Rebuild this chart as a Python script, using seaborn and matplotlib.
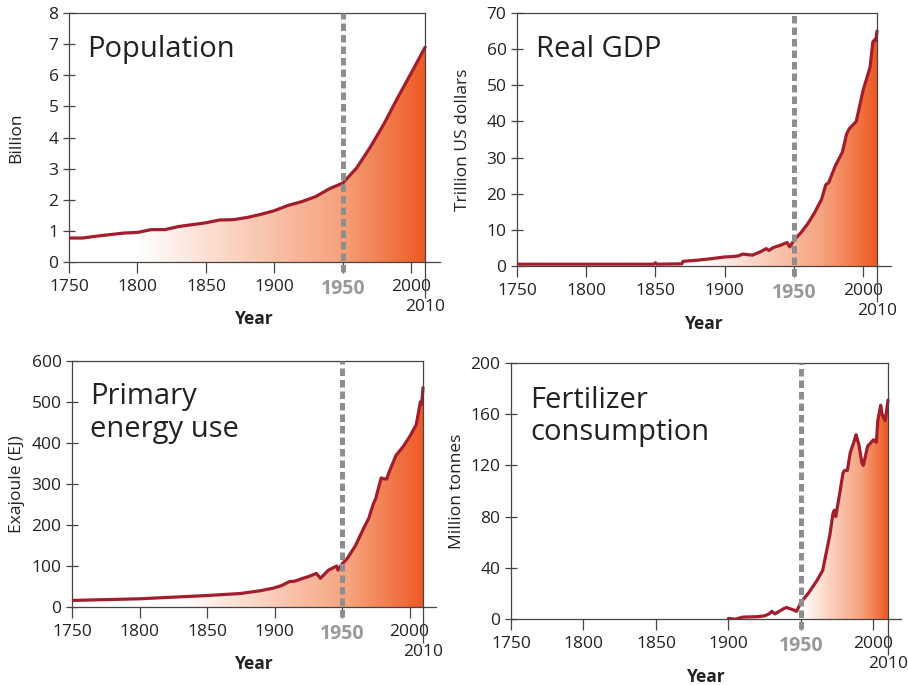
import numpy as np
import pandas as pd
import matplotlib
matplotlib.use("Agg")
import matplotlib.pyplot as plt
from matplotlib.colors import LinearSegmentedColormap
import seaborn as sns

# ---------------- data ----------------
pop_years = list(range(1750, 2011, 10))
pop_values = [0.77, 0.77, 0.83, 0.88, 0.93, 0.95, 1.04, 1.04, 1.14, 1.20,
              1.26, 1.35, 1.36, 1.43, 1.53, 1.65, 1.82, 1.94, 2.10, 2.35,
              2.54, 3.02, 3.69, 4.44, 5.28, 6.08, 6.90]

gdp_years = [1750, 1800, 1849, 1850, 1851, 1869, 1870, 1880, 1890, 1900,
             1905, 1910, 1913, 1920, 1925, 1930, 1932, 1935, 1940, 1945,
             1947, 1950, 1955, 1960, 1965, 1970, 1973, 1975, 1980, 1985,
             1988, 1990, 1995, 2000, 2005, 2007, 2008, 2009, 2010]
gdp_values = [0.5, 0.5, 0.5, 0.9, 0.5, 0.6, 1.3, 1.6, 2.0, 2.5,
              2.6, 2.8, 3.3, 3.0, 3.8, 4.8, 4.3, 5.1, 5.7, 6.5,
              5.3, 7.1, 9.2, 11.7, 14.8, 18.5, 22.5, 23.0, 27.8, 31.5,
              36.5, 38.0, 40.0, 48.7, 55.0, 62.0, 62.5, 62.3, 65.0]

energy_years = [1750, 1800, 1850, 1875, 1890, 1899, 1905, 1911, 1915, 1921,
                1925, 1931, 1934, 1940, 1946, 1947, 1950, 1954, 1960, 1965,
                1970, 1973, 1975, 1979, 1980, 1983, 1985, 1990, 1995, 2000,
                2005, 2008, 2009, 2010]
energy_values = [16, 20, 28, 33, 40, 46, 52, 62, 63, 70,
                 74, 82, 70, 90, 100, 90, 105, 119, 150, 185,
                 218, 250, 265, 315, 313, 312, 330, 370, 390, 415,
                 445, 500, 495, 535]

fert_years = [1900, 1903, 1905, 1910, 1920, 1925, 1928, 1930, 1932, 1935,
              1938, 1940, 1945, 1947, 1950, 1955, 1961, 1965, 1968, 1970,
              1972, 1973, 1974, 1977, 1979, 1980, 1982, 1984, 1987, 1988,
              1990, 1992, 1993, 1996, 2000, 2002, 2003, 2005, 2006, 2008,
              2009, 2010]
fert_values = [0.5, 0.0, 0.0, 1.5, 1.8, 2.5, 4.0, 6.0, 4.0, 6.0,
               8.0, 9.0, 7.0, 6.0, 13.0, 20.0, 30.0, 38.0, 55.0, 66.0,
               82.0, 85.0, 80.0, 100.0, 114.0, 116.0, 116.0, 130.0, 140.0, 144.0,
               136.0, 122.0, 120.0, 135.0, 140.0, 138.0, 155.0, 167.0, 160.0, 155.0,
               162.0, 171.0]

titles = ["Population", "Real GDP", "Primary\nenergy use", "Fertilizer\nconsumption"]
ylabels = ["Billion", "Trillion US dollars", "Exajoule (EJ)", "Million tonnes"]
y_max = [8, 70, 600, 200]
y_step = [1, 10, 100, 40]
x_tick_years = [1750, 1800, 1850, 1900, 1950, 2000]
end_year_label = "2010"
highlight_year = 1950

# ---------------- style ----------------
sns.set_style("white")
plt.rcParams['font.family'] = ['Open Sans', 'DejaVu Sans']

LINE_COLOR = "#A21E2D"
DASH_COLOR = "#8E8E8E"
TEXT_COLOR = "#222222"
SPINE_COLOR = "#444444"
cmap = LinearSegmentedColormap.from_list(
    "warm", [(0.0, "#FFFFFF"), (0.70, "#F6A27D"), (1.0, "#EE5A24")])

W, H = 908, 685
fig = plt.figure(figsize=(W / 100, H / 100), dpi=100)
fig.patch.set_facecolor("white")

# pixel boxes: left, right, top, bottom
boxes = [(69, 440, 13, 262), (517, 891, 13, 266),
         (72, 436, 361, 607), (511, 901, 363, 619)]
x_right = [2020.9, 2020.1, 2019.6, 2019.0]
grad_start = [1800, 1880, 1830, 1950]
# (x, baseline of the last title line) in axes fraction
title_pos = [(0.049, 0.823), (0.050, 0.826), (0.049, 0.692), (0.049, 0.699)]
ylabel_x = [-0.121, -0.123, -0.129, -0.118]
xlabel_y = [-0.193, -0.194, -0.195, -0.191]

series = [(pop_years, pop_values), (gdp_years, gdp_values),
          (energy_years, energy_values), (fert_years, fert_values)]

for i, (yrs, vals) in enumerate(series):
    l, r, t, b = boxes[i]
    ax = fig.add_axes([l / W, 1 - b / H, (r - l) / W, (b - t) / H])
    df = pd.DataFrame({"Year": yrs, "Value": vals})
    yrs_a = np.asarray(yrs, float)
    vals_a = np.asarray(vals, float)

    # gradient fill under curve
    poly = ax.fill_between(yrs_a, 0, vals_a, facecolor="none", edgecolor="none")
    xs = np.linspace(yrs_a[0], yrs_a[-1], 600)
    tgrad = np.clip((xs - grad_start[i]) / (yrs_a[-1] - grad_start[i]), 0, 1)
    im = ax.imshow(tgrad[None, :], extent=[yrs_a[0], yrs_a[-1], 0, vals_a.max()],
                   aspect="auto", cmap=cmap, vmin=0, vmax=1, origin="lower",
                   interpolation="bilinear", zorder=1)
    im.set_clip_path(poly.get_paths()[0], transform=ax.transData)

    sns.lineplot(data=df, x="Year", y="Value", ax=ax, color=LINE_COLOR,
                 linewidth=2.3, zorder=3, estimator=None, sort=False)

    # dashed 1950 line
    ax.axvline(highlight_year, ymin=-10 / (b - t), ymax=1, color=DASH_COLOR,
               lw=3.6, dashes=(1.5, 0.8), zorder=4, clip_on=False)

    ax.set_xlim(1750, x_right[i])
    ax.set_ylim(0, y_max[i])

    # spines
    for s in ["left", "bottom", "top", "right"]:
        ax.spines[s].set_color(SPINE_COLOR)
        ax.spines[s].set_linewidth(0.9)
    ax.spines["top"].set_bounds(1750, yrs_a[-1])
    ax.spines["right"].set_position(("data", yrs_a[-1]))
    ax.spines["right"].set_zorder(5)

    # ticks
    yt = np.arange(0, y_max[i] + 0.001, y_step[i])
    ax.set_yticks(yt)
    ax.set_yticklabels([f"{v:g}" for v in yt])
    ax.set_xticks(x_tick_years)
    ax.set_xticklabels([str(v) for v in x_tick_years])
    ax.set_xticks([yrs_a[-1]], minor=True)
    ax.set_xticklabels([end_year_label], minor=True)
    ax.tick_params(axis="y", which="major", direction="inout", length=9, width=0.9,
                   color=SPINE_COLOR, labelsize=12.5, labelcolor=TEXT_COLOR, pad=3,
                   left=True)
    ax.tick_params(axis="x", which="major", direction="out", length=8, width=0.9,
                   color=SPINE_COLOR, labelsize=12.5, labelcolor=TEXT_COLOR, pad=4.5,
                   bottom=True)
    ax.tick_params(axis="x", which="minor", direction="out", length=26, width=0.9,
                   color=SPINE_COLOR, labelsize=12.5, labelcolor=TEXT_COLOR, pad=0.5,
                   bottom=True)
    for lab in ax.get_xticklabels():
        if lab.get_text() == str(highlight_year):
            lab.set_fontweight("bold")
            lab.set_color("#999999")
            lab.set_fontsize(14)

    ax.set_xlabel("Year", fontsize=12.5, fontweight="bold", color=TEXT_COLOR)
    ax.xaxis.set_label_coords(0.5, xlabel_y[i])
    ax.set_ylabel(ylabels[i], fontsize=12.5, color=TEXT_COLOR)
    ax.yaxis.set_label_coords(ylabel_x[i], 0.5)

    ax.text(title_pos[i][0], title_pos[i][1], titles[i], transform=ax.transAxes,
            fontsize=21, color=TEXT_COLOR, va="baseline", ha="left",
            linespacing=1.15, zorder=6)

fig.savefig("out.png", dpi=100, facecolor="white")
